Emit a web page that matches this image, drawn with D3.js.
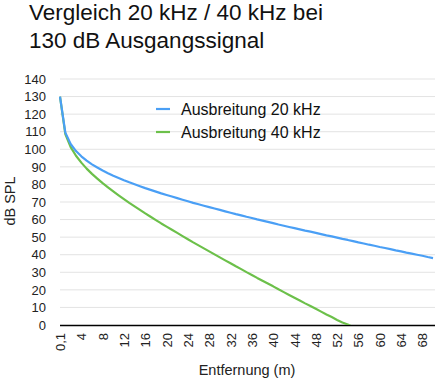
<!DOCTYPE html>
<html><head><meta charset="utf-8">
<script src="https://cdn.jsdelivr.net/npm/d3@7/dist/d3.min.js"></script>
<style>
body{margin:0;background:#fff;}
svg{display:block;font-family:"Liberation Sans",Arial,Helvetica,sans-serif;}
</style></head>
<body>
<svg id="c" width="435" height="378"></svg>
<script>
const distances = [0.1,1,2,3,4,5,6,7,8,9,10,11,12,13,14,15,16,17,18,19,20,21,22,23,24,25,26,27,28,29,30,31,32,33,34,35,36,37,38,39,40,41,42,43,44,45,46,47,48,49,50,51,52,53,54,55,56,57,58,59,60,61,62,63,64,65,66,67,68,69,70];
const spl20 = [130,109.5,103.0,99.0,96.0,93.5,91.4,89.6,87.9,86.4,85.0,83.7,82.4,81.2,80.1,79.0,77.9,76.9,75.9,74.9,74.0,73.1,72.2,71.3,70.4,69.5,68.7,67.9,67.1,66.3,65.5,64.7,63.9,63.1,62.4,61.6,60.9,60.1,59.4,58.7,58.0,57.2,56.5,55.8,55.1,54.4,53.7,53.1,52.4,51.7,51.0,50.4,49.7,49.0,48.4,47.7,47.0,46.4,45.7,45.1,44.4,43.8,43.2,42.5,41.9,41.2,40.6,40.0,39.4,38.7,38.1];
const spl40 = [130,108.6,101.2,96.3,92.4,89.0,86.0,83.3,80.7,78.3,76.0,73.8,71.6,69.5,67.5,65.5,63.5,61.6,59.7,57.8,56.0,54.2,52.4,50.6,48.8,47.0,45.3,43.6,41.9,40.2,38.5,36.8,35.1,33.4,31.8,30.1,28.5,26.8,25.2,23.6,22.0,20.3,18.7,17.1,15.5,13.9,12.3,10.8,9.2,7.6,6.0,4.5,2.9,1.4,0.3,-1.2];
const yTicks = [0,10,20,30,40,50,60,70,80,90,100,110,120,130,140];
const xTickLabels = ["0,1","4","8","12","16","20","24","28","32","36","40","44","48","52","56","60","64","68"];
const seriesNames = ["Ausbreitung 20 kHz","Ausbreitung 40 kHz"];
const colors = ["#4a9ff5","#6cc04a"];

const svg = d3.select("#c");
const L = 60, R = 433, T = 79, B = 325;
const x = d3.scalePoint().domain(distances.map(String)).range([L, R]);
const y = d3.scaleLinear().domain([0,140]).range([B, T]);
const fmt = d => (d === "0.1" ? "0,1" : d);

// title
const title = svg.append("text").attr("x",30).attr("font-size",22.5).attr("fill","#111");
title.append("tspan").attr("x",29).attr("y",20).text("Vergleich 20 kHz / 40 kHz bei");
title.append("tspan").attr("x",29).attr("y",48).text("130 dB Ausgangssignal");

// gridlines
svg.append("g").selectAll("line").data(yTicks.filter(d=>d>0)).join("line")
  .attr("x1",L).attr("x2",R+2).attr("y1",d=>y(d)).attr("y2",d=>y(d))
  .attr("stroke","#e3e3e3").attr("stroke-width",1);

// y axis
const yAxis = svg.append("g").attr("transform",`translate(${L},0)`)
  .call(d3.axisLeft(y).tickValues(yTicks).tickSize(0).tickPadding(14));
yAxis.select(".domain").remove();
yAxis.selectAll("text").attr("font-size",13).attr("fill","#222").attr("font-family","Liberation Sans, Arial, sans-serif");

// x axis
const xAxis = svg.append("g").attr("transform",`translate(0,${B})`)
  .call(d3.axisBottom(x).tickValues(distances.map(String).filter(d=>xTickLabels.includes(fmt(d)))).tickFormat(fmt).tickSize(0));
xAxis.select(".domain").attr("d",`M${L},0.5H${R+2}`).attr("stroke","#000").attr("stroke-width",1.5);
xAxis.selectAll("text").attr("font-size",13).attr("fill","#222").attr("font-family","Liberation Sans, Arial, sans-serif")
  .attr("transform","rotate(-90)").attr("text-anchor","end").attr("x",-8).attr("y",0).attr("dy","0.35em");

// clip
svg.append("clipPath").attr("id","clip").append("rect").attr("x",L-2).attr("y",T-10).attr("width",R-L+6).attr("height",B-T+10);

const line = d3.line().x((d,i)=>x(String(distances[i]))).y(d=>y(d));
const plot = svg.append("g").attr("clip-path","url(#clip)");
[spl40, spl20].forEach((s,k)=>{
  const ci = k===0 ? 1 : 0;
  plot.append("path").datum(s).attr("d",line).attr("fill","none")
    .attr("stroke",colors[ci]).attr("stroke-width",2.2).attr("stroke-linejoin","round");
});

// axis titles
svg.append("text").attr("transform","translate(15,201) rotate(-90)").attr("text-anchor","middle")
  .attr("font-size",14.5).attr("fill","#222").text("dB SPL");
svg.append("text").attr("x",247).attr("y",375).attr("text-anchor","middle")
  .attr("font-size",14.5).attr("fill","#222").text("Entfernung (m)");

// legend
const lg = svg.append("g");
seriesNames.forEach((n,i)=>{
  const yy = 109 + i*23;
  lg.append("line").attr("x1",156).attr("x2",170).attr("y1",yy).attr("y2",yy).attr("stroke",colors[i]).attr("stroke-width",2.2);
  lg.append("text").attr("x",181).attr("y",yy).attr("dy","0.35em").attr("font-size",16).attr("fill","#111").text(n);
});
</script>
</body></html>
